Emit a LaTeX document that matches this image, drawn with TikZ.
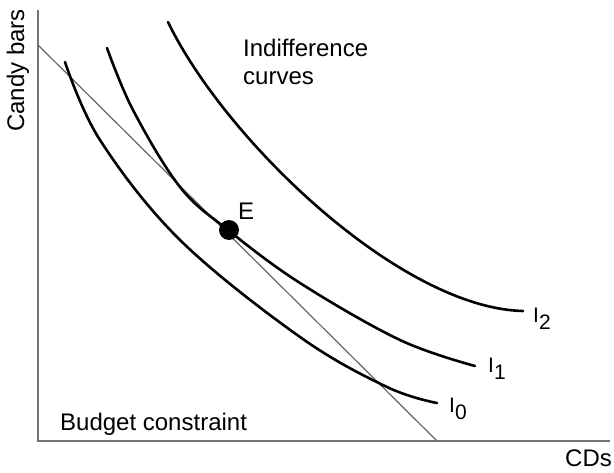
\documentclass[tikz,border=0pt]{standalone}
\usepackage{fontspec}
\setmainfont{Liberation Sans}
\begin{document}
\begin{tikzpicture}[x=1pt,y=-1pt,
  axis/.style={draw=black!55,line width=1.3pt},
  budget/.style={draw=black!60,line width=1.2pt},
  icurve/.style={draw=black,line width=2.6pt,line cap=round},
  lbl/.style={inner sep=0pt,anchor=base west,font=\fontsize{24}{28}\selectfont},
  ilbl/.style={inner sep=0pt,anchor=base west,font=\fontsize{21}{24}\selectfont}]
\useasboundingbox (0,0) rectangle (614,473);
\coordinate (ytop) at (38,10);
\coordinate (origin) at (38,441);
\coordinate (xend) at (610,441);
\coordinate (bA) at (38,45);
\coordinate (bB) at (437,441);
\draw[axis] (ytop) -- (origin) -- (xend);
\draw[budget] (bA) -- (bB);
\draw[icurve] plot[smooth,tension=0.6] coordinates {(65,62) (100,140) (180,240) (300,337) (387,387) (437,403)};
\draw[icurve] plot[smooth,tension=0.6] coordinates {(107,48) (133,110) (180,187) (228,230) (300,283) (400,340) (475,366)};
\draw[icurve] (168,22) .. controls (225,140) and (400,308) .. (523,311);
\node[circle,fill=black,minimum size=20pt,inner sep=0pt] (E) at (229,230) {};
\node[lbl] (Elbl) at (238,220) {E};
\node[lbl] (ind1) at (243,57) {Indifference};
\node[lbl] (ind2) at (243,85) {curves};
\node[lbl] (bud) at (60,431) {Budget constraint};
\node[lbl] (cds) at (565,467) {CDs};
\node[lbl,rotate=90] (candy) at (24,132) {Candy bars};
\node[ilbl] (I2) at (533,323) {I\raisebox{-7pt}{2}};
\node[ilbl] (I1) at (488,373) {I\raisebox{-7pt}{1}};
\node[ilbl] (I0) at (449,413) {I\raisebox{-7pt}{0}};
\end{tikzpicture}
\end{document}
